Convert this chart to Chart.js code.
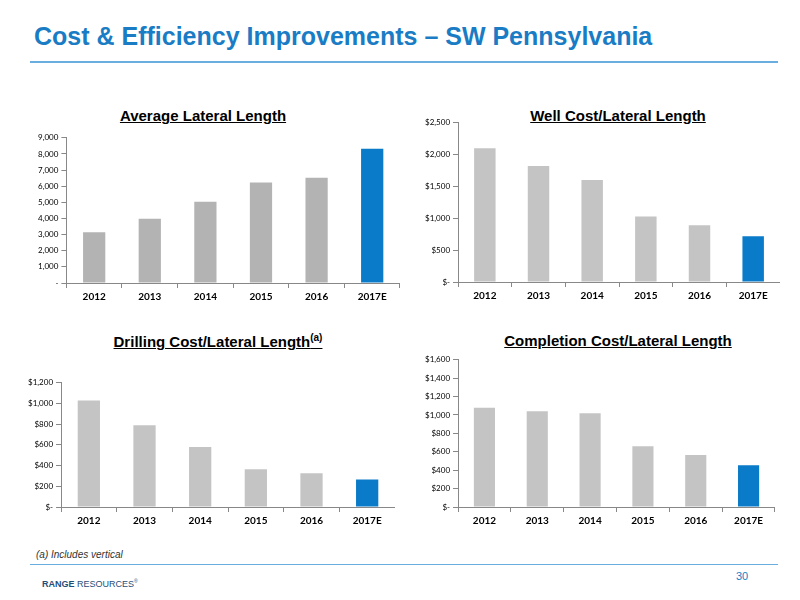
<!DOCTYPE html>
<html><head><meta charset="utf-8">
<script src="https://cdn.jsdelivr.net/npm/chart.js@4/dist/chart.umd.min.js"></script>
<style>
body{margin:0;width:800px;height:600px;position:relative;background:#fff;font-family:"Liberation Sans",Arial,sans-serif;overflow:hidden}
.t{position:absolute;left:34px;top:22px;font-size:25px;font-weight:bold;color:#1a7cc4}
.hr{position:absolute;left:30px;width:748px;height:2px;background:#6aaee0}
.ct{position:absolute;font-size:15px;font-weight:bold;text-decoration:underline;transform:translateX(-50%);white-space:nowrap}
.c{position:absolute}
</style></head><body>
<div class="t">Cost &amp; Efficiency Improvements – SW Pennsylvania</div>
<div class="hr" style="top:61px"></div>
<div class="ct" style="left:203px;top:107px">Average Lateral Length</div>
<div class="ct" style="left:618px;top:107px">Well Cost/Lateral Length</div>
<div class="ct" style="left:218px;top:332px">Drilling Cost/Lateral Length<sup style="font-size:10px">(a)</sup></div>
<div class="ct" style="left:618px;top:332px">Completion Cost/Lateral Length</div>
<div class="c" style="left:35px;top:130px;width:365px;height:176px"><canvas id="c1"></canvas></div>
<div class="c" style="left:422px;top:115px;width:358px;height:190px"><canvas id="c2"></canvas></div>
<div class="c" style="left:25px;top:375px;width:370px;height:155px"><canvas id="c3"></canvas></div>
<div class="c" style="left:422px;top:352px;width:353px;height:178px"><canvas id="c4"></canvas></div>
<div style="position:absolute;left:36px;top:549px;font-size:10px;font-style:italic;color:#333">(a) Includes vertical</div>
<div class="hr" style="top:564px;height:1px"></div>
<div style="position:absolute;left:736px;top:570px;font-size:11px;color:#1a7cc4">30</div>
<div style="position:absolute;left:42px;top:578px;font-size:9px;color:#1f4e79"><b>RANGE</b> RESOURCES<sup style="font-size:5px">®</sup></div>
<script>
const years = ['2012', '2013', '2014', '2015', '2016', '2017E'];
const lateralLength = [3150, 3980, 5030, 6230, 6520, 8320];
const wellCost = [2100, 1820, 1600, 1030, 890, 720];
const drillingCost = [1030, 790, 580, 365, 325, 265];
const completionCost = [1080, 1040, 1020, 660, 565, 455];

const blue = '#0a7bc8';

function makeChart(id, values, max, step, fmt, grey) {
    const colors = values.map((v, i) => i === values.length - 1 ? blue : grey);
    new Chart(document.getElementById(id), {
        type: 'bar',
        data: { labels: years, datasets: [{ data: values, backgroundColor: colors, barPercentage: 0.4, categoryPercentage: 1 }] },
        options: {
            responsive: true,
            maintainAspectRatio: false,
            animation: false,
            plugins: { legend: { display: false }, tooltip: { enabled: false } },
            scales: {
                x: {
                    grid: { drawOnChartArea: false, color: '#888', tickLength: 5 },
                    border: { color: '#888' },
                    ticks: { color: '#000', font: { size: 10, weight: 'bold', family: 'Lato' } }
                },
                y: {
                    min: 0, max: max,
                    grid: { drawOnChartArea: false, color: '#888', tickLength: 5 },
                    border: { color: '#888' },
                    ticks: { stepSize: step, color: '#000', font: { size: 8, family: 'Lato' }, callback: fmt }
                }
            }
        }
    });
}

const num = v => v === 0 ? '-' : v.toLocaleString('en-US');
const dollar = v => v === 0 ? '$-' : '$' + v.toLocaleString('en-US');

makeChart('c1', lateralLength, 9000, 1000, num, '#b3b3b3');
makeChart('c2', wellCost, 2500, 500, dollar, '#c4c4c4');
makeChart('c3', drillingCost, 1200, 200, dollar, '#c4c4c4');
makeChart('c4', completionCost, 1600, 200, dollar, '#c4c4c4');
</script>
</body></html>
